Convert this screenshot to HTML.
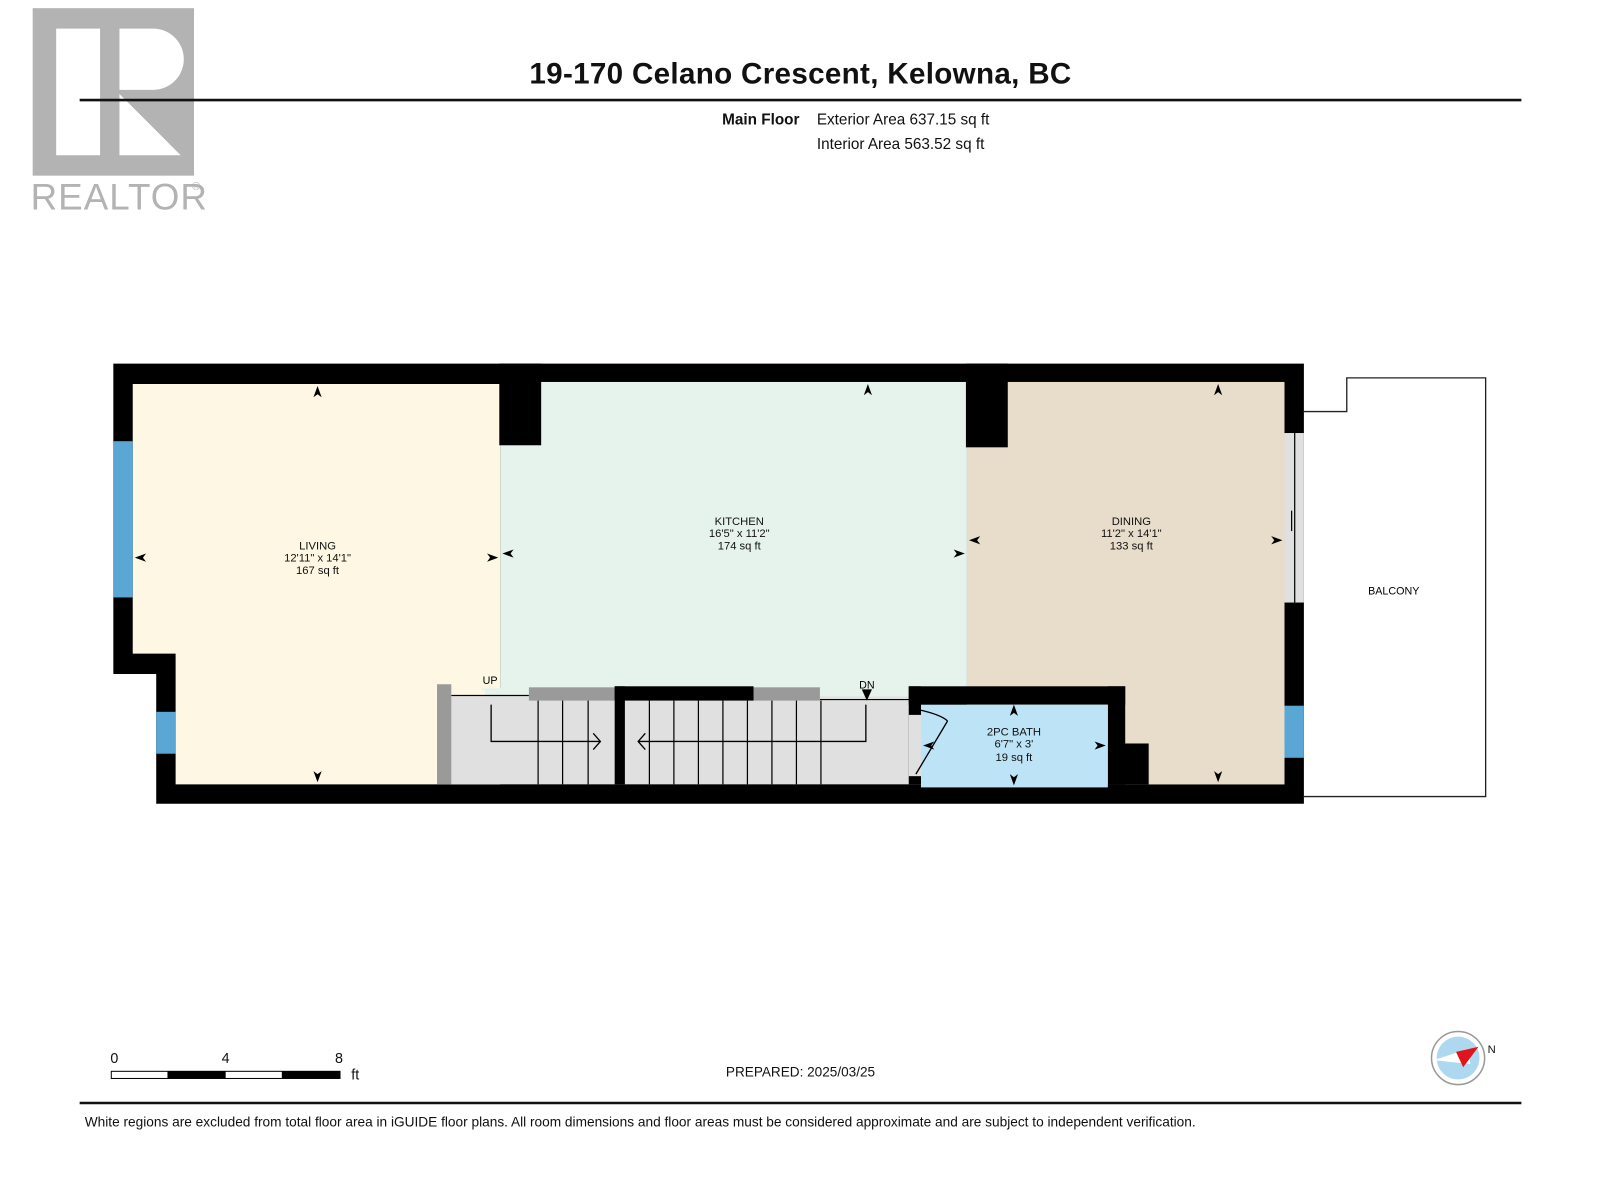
<!DOCTYPE html>
<html><head><meta charset="utf-8"><style>
html,body{margin:0;padding:0;background:#fff;width:1600px;height:1200px;overflow:hidden}
svg{display:block}
text{font-family:"Liberation Sans",Arial,sans-serif}
</style></head><body>
<svg width="1600" height="1200" viewBox="0 0 1567 1175" preserveAspectRatio="none" xmlns="http://www.w3.org/2000/svg">
<!-- logo -->
<rect x="32" y="8" width="158" height="164" fill="#b3b3b3"/>
<rect x="55" y="28" width="43" height="124" fill="#fff"/>
<path d="M117,28 H150 A30,30 0 0 1 150,88 H117 Z" fill="#fff"/>
<path d="M117,92 L177,152 H117 Z" fill="#fff"/>
<text x="30" y="205" font-size="36" fill="#b3b3b3" letter-spacing="1">REALTOR</text>
<text x="188" y="186" font-size="11" fill="#b3b3b3">®</text>
<!-- header -->
<text x="784" y="82" font-size="29" font-weight="bold" text-anchor="middle" fill="#111" letter-spacing="0.3">19-170 Celano Crescent, Kelowna, BC</text>
<line x1="78" y1="98" x2="1490" y2="98" stroke="#111" stroke-width="2.5"/>
<text x="783" y="122" font-size="15" font-weight="bold" text-anchor="end" fill="#111">Main Floor</text>
<text x="800" y="122" font-size="15" fill="#111">Exterior Area 637.15 sq ft</text>
<text x="800" y="146" font-size="15" fill="#111">Interior Area 563.52 sq ft</text>
<!-- balcony -->
<path d="M1277,403 H1319 V370 H1455 V780 H1277" fill="none" stroke="#222" stroke-width="1.3"/>
<text x="1365" y="582" font-size="10.5" text-anchor="middle">BALCONY</text>
<!-- walls base -->
<path d="M111,356 H1277 V787 H153 V660 H111 Z" fill="#000"/>
<!-- rooms -->
<path d="M130,376 H490 V768 H172 V640 H130 Z" fill="#fdf7e4"/>
<rect x="490" y="374" width="457" height="310" fill="#e6f3ec"/>
<rect x="947" y="374" width="311" height="394" fill="#e8dccb"/>
<rect x="1102" y="672" width="30" height="56" fill="#e8dccb"/>
<rect x="1125" y="728" width="133" height="40" fill="#e8dccb"/>
<!-- pillars -->
<rect x="489" y="356" width="41" height="80" fill="#000"/>
<rect x="946" y="356" width="41" height="82" fill="#000"/>
<!-- stairs -->
<rect x="430" y="681" width="472" height="87" fill="#e0e0e0"/>
<rect x="472" y="674" width="430" height="8" fill="#e6f3ec"/>
<rect x="430" y="676" width="45" height="6" fill="#fdf7e4"/>
<line x1="442" y1="681" x2="518" y2="681" stroke="#000" stroke-width="1.2"/>
<line x1="803" y1="685" x2="890" y2="685" stroke="#000" stroke-width="1.2"/>
<rect x="428" y="670" width="14" height="98" fill="#9a9a9a"/>
<rect x="518" y="673" width="84" height="13" fill="#9a9a9a"/>
<rect x="738" y="673" width="65" height="13" fill="#9a9a9a"/>
<rect x="602" y="672" width="136" height="14" fill="#000"/>
<rect x="602" y="672" width="10" height="96" fill="#000"/>
<g stroke="#000" stroke-width="1.2">
<line x1="527" y1="686" x2="527" y2="768"/><line x1="551" y1="686" x2="551" y2="768"/><line x1="576" y1="686" x2="576" y2="768"/>
<line x1="636" y1="686" x2="636" y2="768"/><line x1="660" y1="686" x2="660" y2="768"/><line x1="684" y1="686" x2="684" y2="768"/>
<line x1="708" y1="686" x2="708" y2="768"/><line x1="732" y1="686" x2="732" y2="768"/><line x1="756" y1="686" x2="756" y2="768"/>
<line x1="780" y1="686" x2="780" y2="768"/><line x1="804" y1="686" x2="804" y2="768"/>
</g>
<path d="M481,690 V726 H588 M581,718 L588,726 L581,734" fill="none" stroke="#000" stroke-width="1.3"/>
<path d="M848,690 V726 H625 M632,718 L625,726 L632,734" fill="none" stroke="#000" stroke-width="1.3"/>
<text x="480" y="670" font-size="10.5" text-anchor="middle">UP</text>
<text x="849" y="674" font-size="10.5" text-anchor="middle">DN</text>
<path d="M844,675 L849,686 L854,675 Z" fill="#000"/>
<!-- bath -->
<rect x="890" y="672" width="212" height="18" fill="#000"/>
<rect x="1085" y="672" width="17" height="96" fill="#000"/>
<rect x="1085" y="728" width="40" height="40" fill="#000"/>
<rect x="890" y="672" width="12" height="96" fill="#000"/>
<rect x="902" y="690" width="183" height="81" fill="#bde3f7"/>
<rect x="890" y="700" width="12" height="60" fill="#e0e0e0"/>
<path d="M897,758 L928,706 M900,695 Q922,700 928,706" fill="none" stroke="#000" stroke-width="1.3"/>
<!-- windows -->
<rect x="111" y="432" width="19" height="153" fill="#5aa7d6"/>
<rect x="153" y="697" width="19" height="41" fill="#5aa7d6"/>
<rect x="1258" y="691" width="19" height="51" fill="#5aa7d6"/>
<rect x="1258" y="424" width="19" height="166" fill="#e0e0e0"/>
<line x1="1268" y1="424" x2="1268" y2="590" stroke="#000" stroke-width="1.2"/>
<line x1="1265" y1="500" x2="1265" y2="520" stroke="#000" stroke-width="1.2"/>
<!-- dim arrows -->
<g fill="#000">
<path d="M311,378 l-4,11 l4,-3 l4,3z"/><path d="M311,766 l-4,-11 l4,3 l4,-3z"/>
<path d="M132,546 l11,-4 l-3,4 l3,4z"/><path d="M488,546 l-11,-4 l3,4 l-3,4z"/>
<path d="M492,542 l11,-4 l-3,4 l3,4z"/><path d="M945,542 l-11,-4 l3,4 l-3,4z"/>
<path d="M850,376 l-4,11 l4,-3 l4,3z"/>
<path d="M949,529 l11,-4 l-3,4 l3,4z"/><path d="M1256,529 l-11,-4 l3,4 l-3,4z"/>
<path d="M1193,376 l-4,11 l4,-3 l4,3z"/><path d="M1193,766 l-4,-11 l4,3 l4,-3z"/>
<path d="M993,690 l-4,11 l4,-3 l4,3z"/><path d="M993,769 l-4,-11 l4,3 l4,-3z"/>
<path d="M1083,730 l-11,-4 l3,4 l-3,4z"/><path d="M904,730 l11,-4 l-3,4 l3,4z"/>
</g>
<g font-size="11" text-anchor="middle" fill="#111">
<text x="311" y="538">LIVING</text><text x="311" y="550">12'11" x 14'1"</text><text x="311" y="562">167 sq ft</text>
<text x="724" y="514">KITCHEN</text><text x="724" y="526">16'5" x 11'2"</text><text x="724" y="538">174 sq ft</text>
<text x="1108" y="514">DINING</text><text x="1108" y="526">11'2" x 14'1"</text><text x="1108" y="538">133 sq ft</text>
<text x="993" y="720">2PC BATH</text><text x="993" y="732">6'7" x 3'</text><text x="993" y="745">19 sq ft</text>
</g>
<!-- scale bar -->
<g font-size="14" fill="#111">
<text x="112" y="1041" text-anchor="middle">0</text><text x="221" y="1041" text-anchor="middle">4</text><text x="332" y="1041" text-anchor="middle">8</text><text x="344" y="1057">ft</text>
</g>
<rect x="109" y="1049" width="224" height="7" fill="#fff" stroke="#000" stroke-width="1"/>
<rect x="164" y="1049" width="57" height="7" fill="#000"/>
<rect x="276" y="1049" width="57" height="7" fill="#000"/>
<text x="784" y="1054" font-size="13.3" text-anchor="middle" fill="#111">PREPARED: 2025/03/25</text>
<!-- compass -->
<circle cx="1428" cy="1036" r="26" fill="#fff" stroke="#999" stroke-width="1.5"/>
<circle cx="1428" cy="1036" r="21" fill="#aed8f0"/>
<path d="M1438,1027 L1404,1038 L1440,1042 Z" fill="#fff"/>
<path d="M1426,1030 L1448,1025 L1433,1045 Z" fill="#e0141c"/>
<text x="1457" y="1031" font-size="11" fill="#111">N</text>
<!-- footer -->
<line x1="78" y1="1080" x2="1490" y2="1080" stroke="#111" stroke-width="2.5"/>
<text x="83" y="1103" font-size="13.4" fill="#111">White regions are excluded from total floor area in iGUIDE floor plans. All room dimensions and floor areas must be considered approximate and are subject to independent verification.</text>
</svg>
</body></html>
